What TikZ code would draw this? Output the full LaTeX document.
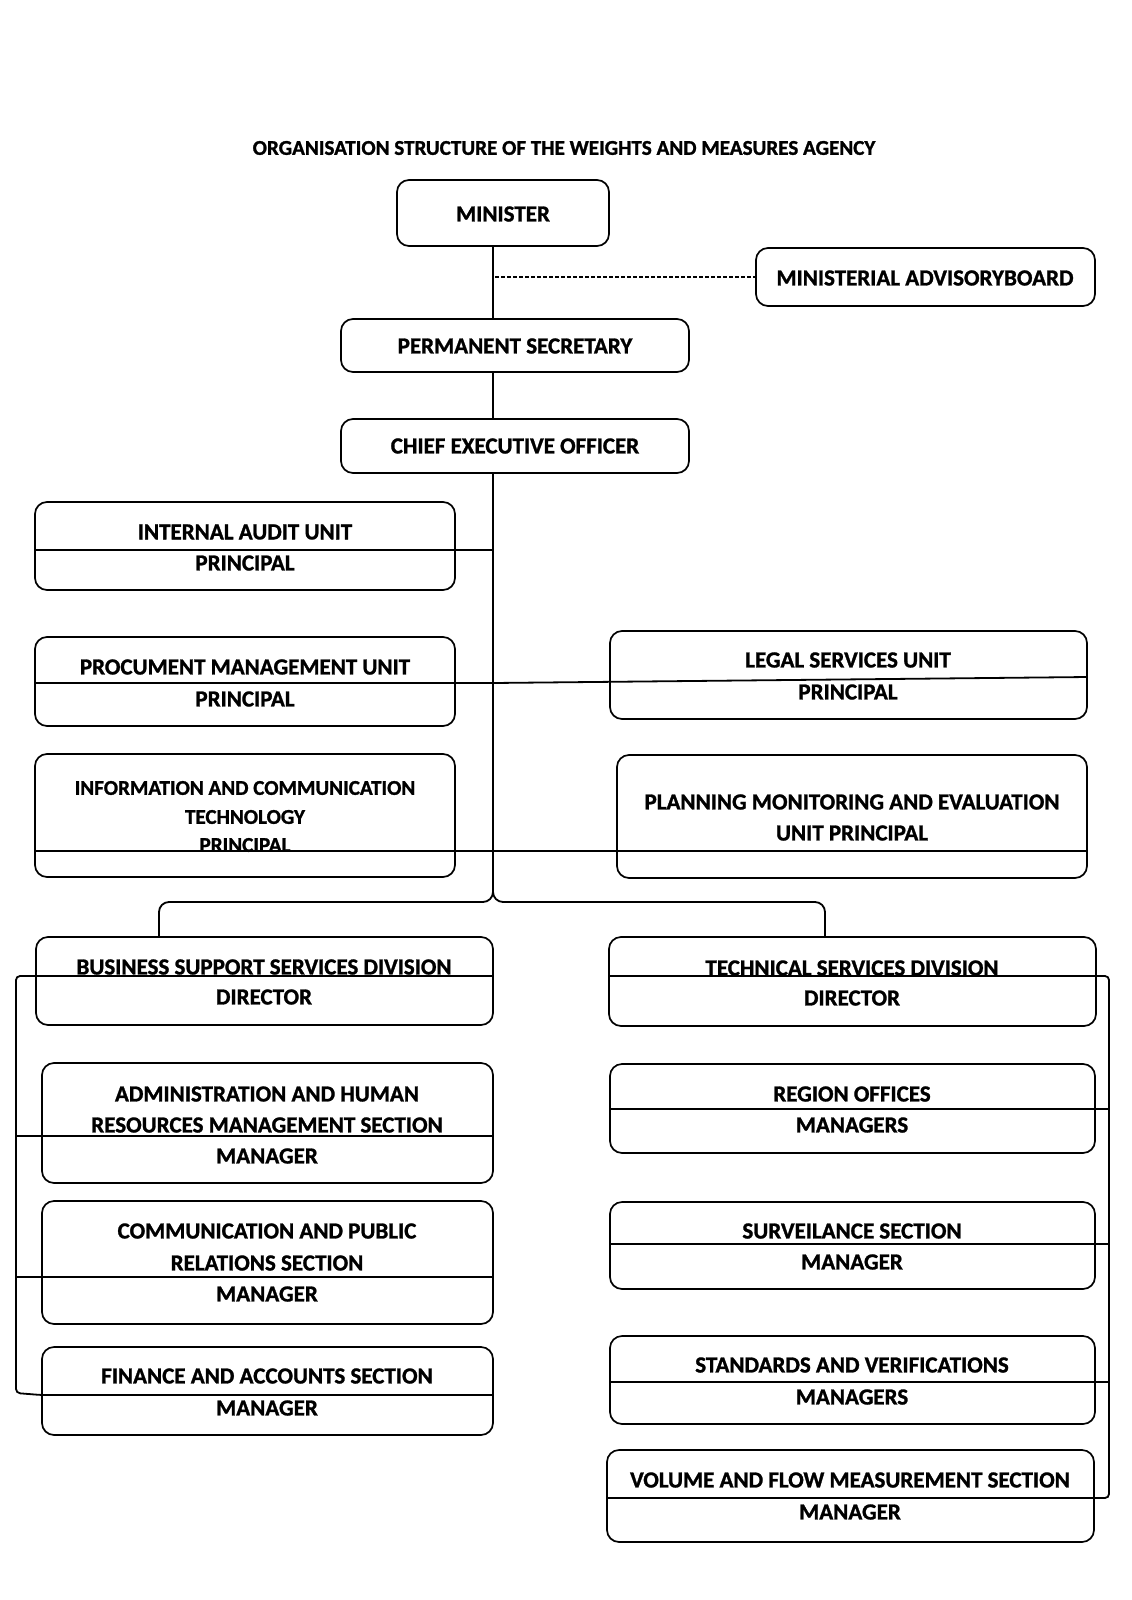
\documentclass[tikz,border=0pt]{standalone}
\usepackage{fontspec}
\setmainfont{Carlito}[BoldFeatures={FakeBold=1.2}]
\usetikzlibrary{fit}
\begin{document}
\begin{tikzpicture}[x=0.5pt,y=-0.5pt,
  box/.style={draw, rounded corners=6pt, line width=0.85pt, inner sep=0pt},
  lbl/.style={font=\fontsize{11.5}{14}\selectfont\bfseries, inner sep=0pt},
  ttl/.style={font=\fontsize{10.55}{13}\selectfont\bfseries, inner sep=0pt},
  link/.style={line width=0.9pt},
  dashlink/.style={line width=0.7pt, dash pattern=on 2pt off 1pt}]
\useasboundingbox (0,0) rectangle (1131,1600);
% boxes
\node[box, fit={(397,180) (609,246)}] (min) {};
\node[box, fit={(756,248) (1095,306)}] (adv) {};
\node[box, fit={(341,319) (689,372)}] (ps) {};
\node[box, fit={(341,419) (689,473)}] (ceo) {};
\node[box, fit={(35,502) (455,590)}] (ia) {};
\node[box, fit={(35,637) (455,726)}] (pmu) {};
\node[box, fit={(610,631) (1087,719)}] (legal) {};
\node[box, fit={(35,754) (455,877)}] (ict) {};
\node[box, fit={(617,755) (1087,878)}] (pme) {};
\node[box, fit={(36,937) (493,1025)}] (bss) {};
\node[box, fit={(609,937) (1096,1026)}] (tsd) {};
\node[box, fit={(42,1063) (493,1183)}] (adm) {};
\node[box, fit={(610,1064) (1095,1153)}] (reg) {};
\node[box, fit={(42,1201) (493,1324)}] (com) {};
\node[box, fit={(610,1202) (1095,1289)}] (sur) {};
\node[box, fit={(42,1347) (493,1435)}] (fin) {};
\node[box, fit={(610,1336) (1095,1424)}] (std) {};
\node[box, fit={(607,1450) (1094,1542)}] (vol) {};
% texts
\node[ttl] (title) at (564,148) {ORGANISATION STRUCTURE OF THE WEIGHTS AND MEASURES AGENCY};
\node[lbl] (tmin) at (503,214) {MINISTER};
\node[lbl] (tadv) at (925,278) {MINISTERIAL ADVISORYBOARD};
\node[lbl] (tps) at (515,346) {PERMANENT SECRETARY};
\node[lbl] (tceo) at (515,446) {CHIEF EXECUTIVE OFFICER};
\node[lbl] (tia1) at (245,532) {INTERNAL AUDIT UNIT};
\node[lbl] (tia2) at (245,563) {PRINCIPAL};
\node[lbl] (tpmu1) at (245,667) {PROCUMENT MANAGEMENT UNIT};
\node[lbl] (tpmu2) at (245,699) {PRINCIPAL};
\node[lbl] (tleg1) at (848,660) {LEGAL SERVICES UNIT};
\node[lbl] (tleg2) at (848,692) {PRINCIPAL};
\node[ttl] (tict1) at (245,788) {INFORMATION AND COMMUNICATION};
\node[ttl] (tict2) at (245,817) {TECHNOLOGY};
\node[ttl] (tict3) at (245,845) {PRINCIPAL};
\node[lbl] (tpme1) at (852,802) {PLANNING MONITORING AND EVALUATION};
\node[lbl] (tpme2) at (852,833) {UNIT PRINCIPAL};
\node[lbl] (tbss1) at (264,967) {BUSINESS SUPPORT SERVICES DIVISION};
\node[lbl] (tbss2) at (264,997) {DIRECTOR};
\node[lbl] (ttsd1) at (852,968) {TECHNICAL SERVICES DIVISION};
\node[lbl] (ttsd2) at (852,998) {DIRECTOR};
\node[lbl] (tadm1) at (267,1094) {ADMINISTRATION AND HUMAN};
\node[lbl] (tadm2) at (267,1125) {RESOURCES MANAGEMENT SECTION};
\node[lbl] (tadm3) at (267,1156) {MANAGER};
\node[lbl] (treg1) at (852,1094) {REGION OFFICES};
\node[lbl] (treg2) at (852,1125) {MANAGERS};
\node[lbl] (tcom1) at (267,1231) {COMMUNICATION AND PUBLIC};
\node[lbl] (tcom2) at (267,1263) {RELATIONS SECTION};
\node[lbl] (tcom3) at (267,1294) {MANAGER};
\node[lbl] (tsur1) at (852,1231) {SURVEILANCE SECTION};
\node[lbl] (tsur2) at (852,1262) {MANAGER};
\node[lbl] (tfin1) at (267,1376) {FINANCE AND ACCOUNTS SECTION};
\node[lbl] (tfin2) at (267,1408) {MANAGER};
\node[lbl] (tstd1) at (852,1365) {STANDARDS AND VERIFICATIONS};
\node[lbl] (tstd2) at (852,1397) {MANAGERS};
\node[lbl] (tvol1) at (850,1480) {VOLUME AND FLOW MEASUREMENT SECTION};
\node[lbl] (tvol2) at (850,1512) {MANAGER};
% coordinates
\coordinate (tx) at (493,0);
\coordinate (split) at (493,902);
\coordinate (bsstop) at (159,937);
\coordinate (tsdtop) at (825,937);
% connectors
\draw[link] (min.south -| tx) -- (ps.north -| tx);
\draw[dashlink] ([xshift=1pt]tx |- adv.west) -- (adv.west);
\draw[link] (ps.south -| tx) -- (ceo.north -| tx);
\draw[link, rounded corners=5pt] (ceo.south -| tx) -- (split) -- (159,902) -- (bsstop);
\draw[link, rounded corners=5pt] (493,870) -- (split) -- (825,902) -- (tsdtop);
% dividers, left column
\draw[link] (ia.west |- 0,550) -- (tx |- 0,550);
\draw[link] (pmu.west |- 0,683) -- (tx |- 0,683) -- (legal.east |- 0,677);
\draw[link] (ict.west |- 0,851) -- (pme.east |- 0,851);
% left bus
\draw[link, rounded corners=2pt] (bss.east |- 0,976) -- (16,976) -- (16,1393) -- (fin.west |- 0,1395) -- (fin.east |- 0,1395);
\draw[link] (16,1136) -- (adm.east |- 0,1136);
\draw[link] (16,1277) -- (com.east |- 0,1277);
% right bus
\draw[link, rounded corners=2pt] (tsd.west |- 0,976) -- (1109,976) -- (1109,1498) -- (vol.west |- 0,1498);
\draw[link] (reg.west |- 0,1109) -- (1109,1109);
\draw[link] (sur.west |- 0,1244) -- (1109,1244);
\draw[link] (std.west |- 0,1382) -- (1109,1382);
\end{tikzpicture}
\end{document}
